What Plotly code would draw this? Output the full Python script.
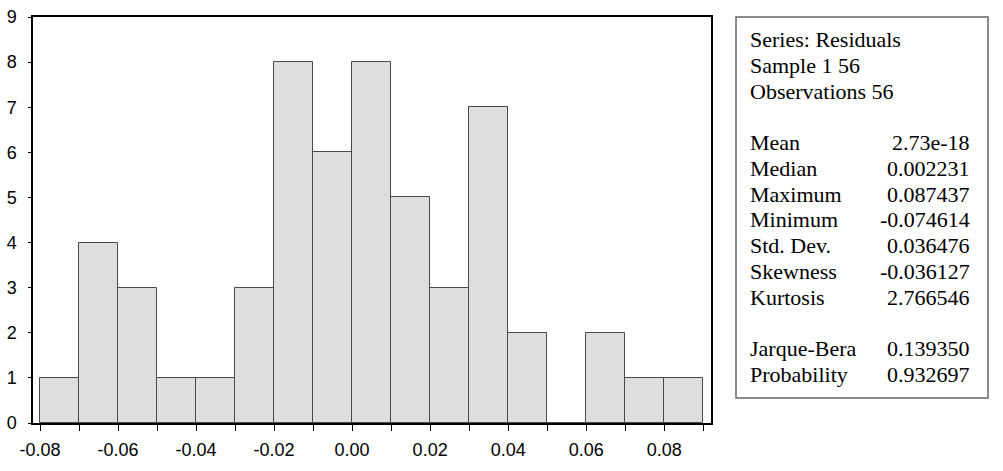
import plotly.graph_objects as go

# histogram of residuals, bins of width 0.01
bin_left = [-0.08, -0.07, -0.06, -0.05, -0.04, -0.03, -0.02, -0.01,
            0.00, 0.01, 0.02, 0.03, 0.04, 0.05, 0.06, 0.07, 0.08]
counts = [1, 4, 3, 1, 1, 3, 8, 6, 8, 5, 3, 7, 2, 0, 2, 1, 1]
bin_width = 0.01

x_tick_vals = [-0.08, -0.07, -0.06, -0.05, -0.04, -0.03, -0.02, -0.01, 0.00,
               0.01, 0.02, 0.03, 0.04, 0.05, 0.06, 0.07, 0.08, 0.09]
x_tick_text = ["-0.08", "", "-0.06", "", "-0.04", "", "-0.02", "", "0.00",
               "", "0.02", "", "0.04", "", "0.06", "", "0.08", ""]
y_tick_vals = [0, 1, 2, 3, 4, 5, 6, 7, 8, 9]

header_lines = ["Series: Residuals", "Sample 1 56", "Observations 56"]
stat_names = ["Mean", "Median", "Maximum", "Minimum", "Std. Dev.",
              "Skewness", "Kurtosis"]
stat_values = ["2.73e-18", "0.002231", "0.087437", "-0.074614", "0.036476",
               "-0.036127", "2.766546"]
test_names = ["Jarque-Bera", "Probability"]
test_values = ["0.139350", "0.932697"]

W, H = 1003, 471
PLOT_L, PLOT_R, PLOT_T, PLOT_B = 33, 711, 17, 423

BAR_FILL = "#dedede"
BAR_EDGE = "#4a4a4a"
TICK_FONT = dict(family="Liberation Sans, Arial", size=18, color="black")
BOX_FONT = dict(family="Liberation Serif, Times New Roman", size=22, color="black")


def px_x(p):
    return (p - PLOT_L) / (PLOT_R - PLOT_L)


def px_y(p):
    return (PLOT_B - p) / (PLOT_B - PLOT_T)


fig = go.Figure()
fig.add_trace(
    go.Bar(
        x=bin_left,
        y=counts,
        width=bin_width,
        offset=0,
        marker=dict(color=BAR_FILL, line=dict(color=BAR_EDGE, width=1)),
        hoverinfo="y",
    )
)

# stats box on the right
fig.add_shape(
    type="rect", xref="paper", yref="paper",
    x0=px_x(736), x1=px_x(988), y0=px_y(398), y1=px_y(17),
    line=dict(color="#666666", width=1.5), fillcolor="white", layer="below",
)

LINE_STEP = 25.7
FIRST_LINE = 40
TEXT_LEFT = 748
VALUE_RIGHT = 972

rows = [(t, None) for t in header_lines] + [(None, None)]
rows += list(zip(stat_names, stat_values)) + [(None, None)]
rows += list(zip(test_names, test_values))

for i, (label, value) in enumerate(rows):
    yc = px_y(FIRST_LINE + i * LINE_STEP)
    if label is not None:
        fig.add_annotation(
            xref="paper", yref="paper", x=px_x(TEXT_LEFT), y=yc,
            text=label, showarrow=False, xanchor="left", yanchor="middle",
            font=BOX_FONT,
        )
    if value is not None:
        fig.add_annotation(
            xref="paper", yref="paper", x=px_x(VALUE_RIGHT), y=yc,
            text=value, showarrow=False, xanchor="right", yanchor="middle",
            font=BOX_FONT,
        )

fig.update_layout(
    width=W,
    height=H,
    margin=dict(l=PLOT_L, r=W - PLOT_R, t=PLOT_T, b=H - PLOT_B, pad=0),
    paper_bgcolor="white",
    plot_bgcolor="white",
    showlegend=False,
    bargap=0,
    xaxis=dict(
        range=[-0.0818, 0.092],
        tickmode="array",
        tickvals=x_tick_vals,
        ticktext=x_tick_text,
        ticks="outside",
        ticklen=6,
        tickcolor="black",
        tickwidth=1,
        showgrid=False,
        zeroline=False,
        showline=True,
        linecolor="black",
        linewidth=1.5,
        mirror=True,
        tickfont=TICK_FONT,
        ticklabelstandoff=4,
        automargin=False,
    ),
    yaxis=dict(
        range=[0, 9],
        tickmode="array",
        tickvals=y_tick_vals,
        ticks="outside",
        ticklen=3,
        tickcolor="black",
        tickwidth=1,
        showgrid=False,
        zeroline=False,
        showline=True,
        linecolor="black",
        linewidth=1.5,
        mirror=True,
        tickfont=TICK_FONT,
        ticklabelstandoff=8,
        automargin=False,
    ),
)

fig.write_html(
    "out.html",
    config={"displayModeBar": False},
    post_script="document.body.style.margin='0';",
)
